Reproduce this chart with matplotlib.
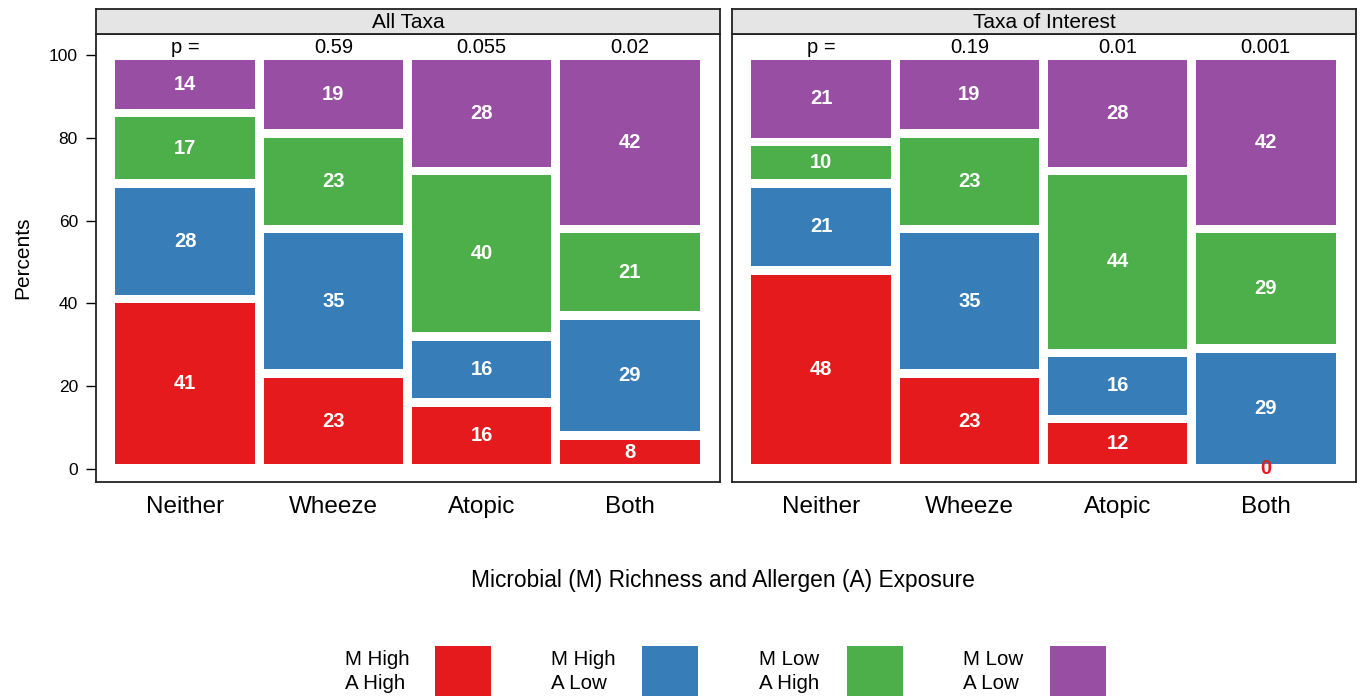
import matplotlib
matplotlib.use("Agg")
import matplotlib.pyplot as plt
from matplotlib.patches import Rectangle
import numpy as np

plt.rcParams['font.family'] = ['Liberation Sans', 'DejaVu Sans']

# outcome groups and exposure classes
groups = ["Neither", "Wheeze", "Atopic", "Both"]
classes = ["M High\nA High", "M High\nA Low", "M Low\nA High", "M Low\nA Low"]
colors = ["#E41A1C", "#377EB8", "#4DAF4A", "#984EA3"]

# percent of each group in each class (rows = class, cols = group)
all_taxa = np.array([
    [41, 23, 16, 8],
    [28, 35, 16, 29],
    [17, 23, 40, 21],
    [14, 19, 28, 42],
])
taxa_interest = np.array([
    [48, 23, 12, 0],
    [21, 35, 16, 29],
    [10, 23, 44, 29],
    [21, 19, 28, 42],
])
p_all = ["p =", "0.59", "0.055", "0.02"]
p_interest = ["p =", "0.19", "0.01", "0.001"]

panels = [("All Taxa", all_taxa, p_all), ("Taxa of Interest", taxa_interest, p_interest)]

fig = plt.figure(figsize=(13.6, 6.96), dpi=100)

W, H = 1360.0, 696.0
ax_left = [96 / W, 732 / W]
ax_w = 624 / W
ax_bot = 1 - 481.7 / H
ax_h = (481.7 - 34.3) / H
strip_h = 25.6 / H

gy = 1.05   # white gap, in percent units
gx = 0.028  # white gap, in category units

for k, (title, vals, pvals) in enumerate(panels):
    ax = fig.add_axes([ax_left[k], ax_bot, ax_w, ax_h])
    ax.set_xlim(-0.603, 3.61)
    ax.set_ylim(-3.15, 105.05)

    bottoms = np.vstack([np.zeros(vals.shape[1]), np.cumsum(vals, axis=0)[:-1]])
    for i in range(vals.shape[0]):
        for j in range(vals.shape[1]):
            v = vals[i, j]
            b = bottoms[i, j]
            if v > 0:
                ax.bar(j, v - 2 * gy, bottom=b + gy, width=1 - 2 * gx,
                       color=colors[i], edgecolor="none")
            tcol = "white" if v > 0 else colors[i]
            ax.text(j, b + v / 2.0, str(v), ha="center", va="center",
                    color=tcol, fontsize=14.5, fontweight="bold")

    for j, p in enumerate(pvals):
        ax.text(j, 101.9, p, ha="center", va="center", fontsize=14.5)

    ax.set_xticks(range(len(groups)))
    ax.set_xticklabels(groups, fontsize=17.5)
    ax.tick_params(axis="x", length=0, pad=10)
    if k == 0:
        ax.set_yticks([0, 20, 40, 60, 80, 100])
        ax.tick_params(axis="y", labelsize=12.5, length=7, width=1, pad=6)
        ax.set_ylabel("Percents", fontsize=15, labelpad=12)
    else:
        ax.set_yticks([])
    for s in ax.spines.values():
        s.set_linewidth(1.3)
        s.set_color("#222222")

    # strip header
    sax = fig.add_axes([ax_left[k], ax_bot + ax_h, ax_w, strip_h])
    sax.set_facecolor("#E5E5E5")
    sax.set_xticks([])
    sax.set_yticks([])
    for s in sax.spines.values():
        s.set_linewidth(1.3)
        s.set_color("#222222")
    sax.text(0.5, 0.45, title, ha="center", va="center", fontsize=15,
             transform=sax.transAxes)

fig.text(723 / W, 1 - 581 / H, "Microbial (M) Richness and Allergen (A) Exposure",
         ha="center", va="center", fontsize=16.4)

# legend row along the bottom
text_x = [345, 551, 759, 963]
box_x = [435, 642, 847, 1050]
for i in range(len(classes)):
    fig.text(text_x[i] / W, 1 - 671.5 / H, classes[i], ha="left", va="center",
             fontsize=14.8, linespacing=1.3)
    fig.patches.append(Rectangle((box_x[i] / W, 0), 56 / W, 50 / H,
                                 transform=fig.transFigure, facecolor=colors[i],
                                 edgecolor="none"))

fig.savefig("out.png", dpi=100)
